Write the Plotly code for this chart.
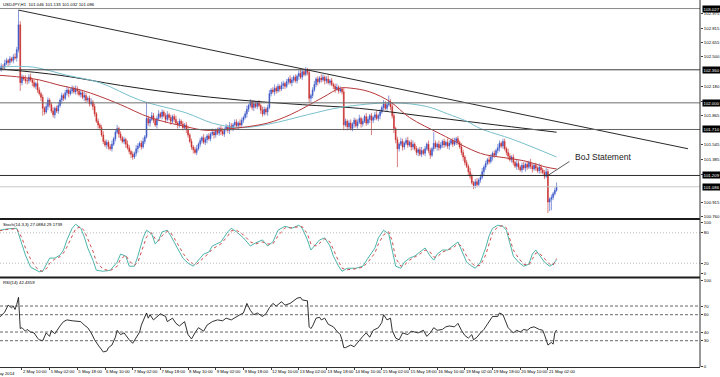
import plotly.graph_objects as go

# ---------------- DATA ----------------
header_text = "USDJPY,H1  101.046 101.133 101.032 101.086"
stoch_text = "Stoch(14,3,3) 27.0884 29.1739"
rsi_text = "RSI(14) 42.4359"
event_text = "BoJ Statement"
event_bar = 320
event_price = 101.209

# prices expressed in hundredths above 100.00 (e.g. 236 -> 102.36)
first_open_pips = 235
close_pips = [
    236, 238, 235, 237, 240, 239, 243, 246, 244,
    248, 246, 250, 249, 258, 285, 222, 228, 226, 224,
    224, 228, 225, 222, 218, 221, 214, 210, 206, 194,
    190, 196, 203, 198, 191, 187, 194, 191,
    197, 203, 208, 205, 211, 214,
    210, 213, 216, 212, 215, 213, 209, 211,
    206, 208, 203, 205, 199, 201,
    196, 188, 180, 176, 173,
    165, 158, 154, 157, 152, 150, 155,
    161, 168, 172, 166,
    162, 158, 160, 155, 151, 147, 144,
    141, 145, 150, 153, 156, 152, 158, 163, 183,
    178, 182, 186, 181, 176, 183, 188,
    185, 190, 186, 182, 187, 184, 180, 185,
    182, 178, 176, 180, 177, 173, 176, 171,
    165, 158, 152, 149, 146, 150,
    155, 159, 162, 157, 160, 164, 161, 166,
    168, 165, 170, 167, 172, 169, 166, 171, 174, 170, 175, 172, 176, 179, 175, 178,
    176, 181, 184, 188,
    193, 197, 201, 195, 199, 196, 200, 197,
    192, 188, 193, 190, 195, 210, 214,
    212, 216, 213, 218, 215, 219,
    221, 218, 223, 226, 222, 225, 228, 224, 229,
    232, 228, 234, 231, 236, 233, 205, 208,
    214, 220, 226, 223,
    227, 225, 228, 224, 226, 222, 224, 220,
    218, 215, 217, 213, 215, 212, 176,
    180, 174, 178, 172, 177, 181, 175,
    179, 183, 177, 180, 185, 178, 182, 186, 181, 184, 187, 183, 186,
    190, 195, 199, 194, 198, 201, 196,
    186, 172, 160, 150,
    155, 158, 152, 156, 159, 154, 157, 152, 155,
    150, 146, 149, 144, 148, 145,
    150, 155, 148, 143, 150, 156,
    152, 155, 151, 154, 158,
    154, 157, 153, 156, 159, 155, 158, 161, 157,
    152, 146, 141, 135, 131, 125,
    120, 113, 110, 114, 111, 116, 119,
    125, 130, 134, 138, 136, 141, 145, 143, 148, 151,
    156, 153, 158, 150, 146,
    142, 138, 141, 135, 131, 134, 130, 127, 132,
    129, 133, 130, 135, 131, 128, 132, 129, 126, 130, 127,
    124, 120, 125, 92, 95, 97, 101, 104.6, 108.6,
]
wick_up_pips = [
    3, 2, 4, 2, 3, 2, 4, 3, 2, 3, 2, 3, 4, 3, 16, 4, 3, 2, 4, 3,
    3, 4, 2, 3, 2, 4, 3, 2, 3, 2, 4, 3, 2, 3, 4, 2, 3, 4, 2, 3,
    2, 3, 4, 2, 3, 3, 2, 4, 3, 2, 3, 2, 4, 3, 2, 3, 4, 2, 3, 2,
    3, 2, 3, 4, 2, 3, 2, 3, 4, 2, 3, 4, 2, 3, 2, 3, 2, 4, 3, 2,
    3, 2, 4, 3, 2, 3, 4, 2, 17, 3, 2, 4, 3, 2, 3, 4, 2, 3, 2, 3,
    4, 2, 3, 2, 3, 4, 2, 3, 2, 3, 2, 3, 4, 2, 3, 2, 3, 4, 2, 3,
    2, 4, 3, 2, 3, 2, 4, 3, 2, 3, 2, 3, 4, 2, 3, 2, 4, 3, 2, 3,
    3, 2, 4, 3, 2, 3, 4, 2, 3, 2, 4, 3, 2, 3, 2, 4, 3, 2, 3, 4,
    2, 3, 4, 2, 3, 2, 4, 3, 2, 3, 2, 4, 3, 2, 3, 2, 3, 4, 2, 3,
    3, 2, 4, 2, 3, 4, 2, 3, 2, 4, 3, 2, 3, 4, 2, 3, 2, 3, 4, 2,
    3, 2, 4, 3, 2, 3, 4, 2, 3, 2, 3, 4, 2, 3, 2, 4, 3, 2, 3, 2,
    3, 4, 2, 3, 2, 4, 3, 2, 7, 3, 4, 3, 2, 3, 2, 4, 3, 2, 3, 4,
    2, 3, 4, 2, 3, 2, 3, 4, 2, 3, 2, 4, 3, 2, 12, 3, 2, 4, 3, 2,
    3, 2, 4, 3, 2, 3, 4, 2, 3, 2, 4, 3, 2, 3, 2, 4, 3, 2, 3, 4,
    2, 3, 4, 2, 3, 2, 4, 3, 2, 3, 2, 4, 3, 2, 3, 3, 2, 4, 3, 2,
    3, 2, 4, 3, 2, 3, 4, 2, 3, 2, 4, 3, 2, 3, 2, 4, 3, 2, 3, 4,
    3, 2, 3, 2, 3, 4.7,
]
wick_dn_pips = [
    2, 3, 2, 4, 3, 2, 3, 2, 4, 3, 2, 3, 2, 4, 3, 9, 3, 2, 3, 4,
    3, 2, 4, 2, 3, 3, 2, 4, 8, 3, 2, 4, 3, 2, 3, 4, 2, 3, 2, 4,
    3, 2, 3, 4, 2, 3, 2, 3, 4, 2, 3, 2, 4, 3, 2, 3, 2, 4, 3, 2,
    4, 3, 2, 3, 2, 4, 3, 2, 3, 2, 3, 2, 4, 3, 2, 3, 4, 2, 3, 4,
    3, 2, 3, 4, 2, 3, 2, 3, 2, 3, 4, 2, 3, 2, 4, 3, 2, 3, 2, 4,
    2, 3, 4, 2, 3, 2, 4, 3, 2, 3, 2, 4, 3, 2, 3, 4, 2, 3, 2, 3,
    3, 2, 3, 4, 2, 3, 2, 4, 3, 2, 3, 4, 2, 3, 2, 3, 4, 2, 3, 2,
    2, 4, 3, 2, 3, 2, 4, 3, 2, 3, 4, 2, 3, 2, 4, 3, 2, 3, 4, 2,
    3, 2, 4, 3, 2, 3, 2, 4, 3, 2, 3, 2, 4, 3, 2, 3, 4, 2, 3, 2,
    2, 3, 5, 4, 3, 2, 3, 4, 2, 3, 2, 4, 3, 2, 3, 2, 3, 4, 2, 3,
    2, 3, 6, 2, 4, 3, 2, 3, 4, 2, 3, 2, 4, 3, 2, 3, 2, 4, 16, 3,
    3, 2, 3, 4, 2, 3, 2, 3, 2, 4, 3, 5, 4, 20, 3, 2, 4, 3, 2, 3,
    2, 4, 3, 2, 3, 4, 2, 3, 2, 3, 2, 3, 4, 2, 3, 2, 4, 3, 2, 3,
    3, 2, 3, 4, 2, 3, 2, 4, 3, 2, 3, 4, 3, 2, 4, 3, 2, 4, 3, 2,
    2, 3, 2, 4, 3, 2, 3, 2, 4, 3, 2, 3, 4, 2, 3, 2, 3, 4, 2, 3,
    3, 2, 4, 3, 2, 3, 2, 4, 3, 2, 3, 4, 2, 3, 2, 3, 4, 2, 3, 2,
    12, 10, 12, 3, 2, 1.4,
]

# moving averages: (bar, price)
red_ma_points = [(3, 102.30), (15, 102.28), (26, 102.25), (38, 102.19), (50, 102.14), (61, 102.07),
                 (73, 101.98), (90, 101.84), (111, 101.74), (123, 101.70), (142, 101.73), (158, 101.78),
                 (171, 101.87), (190, 102.06), (200, 102.16), (206, 102.16), (217, 102.12), (229, 102.01),
                 (240, 101.84), (258, 101.66), (281, 101.45), (292, 101.41), (306, 101.37), (319, 101.30),
                 (325, 101.28)]
teal_ma_points = [(3, 102.39), (22, 102.39), (42, 102.30), (61, 102.22), (84, 102.03), (111, 101.89),
                  (126, 101.78), (142, 101.73), (159, 101.77), (181, 101.87), (200, 101.95), (230, 102.00),
                  (250, 101.96), (262, 101.88), (273, 101.80), (281, 101.72), (300, 101.60), (325, 101.41)]
black_ma_points = [(3, 102.37), (38, 102.30), (73, 102.19), (107, 102.10), (142, 102.03), (178, 101.98),
                   (211, 101.94), (246, 101.86), (281, 101.78), (325, 101.68)]

trend_points = [(14, 103.01), (401, 101.50)]
level_prices = [103.027, 102.360, 102.000, 101.710, 101.209]
level_labels = ["103.027", "102.360", "102.000", "101.710", "101.209"]
bid_price = 101.086
bid_label = "101.086"

# visible price-scale labels (those hidden under the boxed line labels are left out)
price_ticks = [102.975, 102.815, 102.655, 102.500, 102.180, 102.020, 101.865,
               101.545, 101.385, 101.225, 100.915, 100.760]
price_tick_text = ["102.975", "102.815", "102.655", "102.500", "102.180", "102.020",
                   "101.865", "101.545", "101.385", "101.225", "100.915", "100.760"]
stoch_ticks = [0, 20, 80, 100]
stoch_levels = [20, 80]
rsi_ticks = [0, 30, 40, 60, 70, 100]
rsi_levels = [30, 40, 60, 70]

time_label_bars = [16, 32, 48, 64, 80, 96, 112, 128, 144, 160, 176, 192, 208, 224, 240, 256, 272, 288, 304, 320]
time_labels = ["2 May 10:00", "5 May 02:00", "5 May 18:00", "6 May 10:00", "7 May 02:00", "7 May 18:00",
               "8 May 10:00", "9 May 02:00", "9 May 18:00", "12 May 10:00", "13 May 02:00", "13 May 18:00",
               "14 May 10:00", "15 May 02:00", "15 May 18:00", "16 May 10:00", "19 May 02:00", "19 May 18:00",
               "20 May 10:00", "21 May 02:00"]
first_date_label = "2 May 2014"

# stochastic: (bar, %K, %D)
stoch_points = [
    (3, 85, 84), (8, 88, 87), (13, 89, 88), (16, 56, 70), (18, 36, 50), (21, 12, 28), (24, 6, 12),
    (26, 3, 6), (28, 4, 4), (31, 22, 12), (32, 30, 20), (35, 30, 28), (38, 36, 33), (40, 46, 40),
    (42, 66, 52), (45, 89, 74), (47, 97, 88), (50, 89, 92), (52, 72, 84), (54, 50, 68), (57, 26, 44),
    (59, 6, 22), (63, 4, 8), (67, 6, 5), (71, 22, 14), (73, 38, 28), (76, 34, 36), (78, 14, 24),
    (81, 14, 16), (83, 34, 22), (86, 70, 50), (88, 85, 72), (91, 78, 80), (93, 58, 68), (95, 66, 64),
    (97, 82, 74), (100, 85, 83), (102, 74, 80), (105, 54, 64), (109, 30, 40), (112, 20, 26),
    (115, 14, 18), (117, 22, 18), (121, 38, 30), (124, 42, 40), (126, 54, 48), (131, 62, 58),
    (135, 82, 74), (137, 89, 84), (140, 82, 85), (144, 70, 76), (148, 54, 62), (151, 60, 58),
    (155, 66, 62), (158, 54, 58), (161, 62, 58), (164, 85, 74), (168, 93, 90), (172, 89, 90),
    (176, 95, 92), (178, 89, 92), (181, 66, 78), (183, 46, 58), (186, 58, 54), (188, 66, 60),
    (191, 70, 68), (194, 54, 62), (196, 34, 46), (199, 14, 24), (201, 4, 10), (204, 10, 7),
    (209, 10, 9), (213, 14, 12), (216, 30, 22), (220, 50, 40), (222, 70, 58), (225, 85, 76),
    (228, 78, 82), (230, 46, 64), (232, 14, 30), (235, 10, 14), (237, 22, 16), (240, 30, 26),
    (243, 34, 32), (246, 42, 38), (249, 50, 46), (252, 34, 42), (254, 26, 32), (256, 38, 32),
    (259, 46, 42), (262, 46, 46), (265, 54, 50), (268, 62, 58), (270, 46, 54), (273, 22, 34),
    (276, 14, 20), (278, 10, 14), (281, 22, 16), (284, 50, 36), (286, 74, 60), (288, 89, 80),
    (291, 95, 92), (294, 93, 94), (296, 85, 90), (298, 58, 70), (300, 34, 46), (303, 22, 30),
    (306, 14, 18), (309, 18, 16), (311, 38, 28), (313, 46, 40), (315, 36, 40), (318, 22, 30),
    (321, 14, 18), (323, 18, 16), (325, 27.1, 29.2),
]

# RSI(14): (bar, value)
rsi_points = [
    (3, 57), (6, 63), (8, 71), (10, 68), (11, 70), (12, 66), (13, 72), (14, 80), (15, 44), (16, 45),
    (18, 41), (19, 43), (21, 40), (23, 39), (25, 33), (26, 31), (28, 30), (30, 39), (32, 35), (33, 42),
    (35, 38), (37, 45), (38, 47), (40, 52), (42, 54), (45, 53), (48, 52), (50, 52), (52, 48), (54, 45),
    (56, 39), (58, 31), (60, 25), (62, 19), (63, 17), (65, 18), (66, 22), (68, 25), (70, 34), (71, 42),
    (73, 37), (75, 39), (77, 33), (78, 31), (80, 27), (82, 34), (84, 40), (85, 48), (88, 62), (89, 56),
    (90, 60), (92, 54), (94, 58), (96, 61), (99, 58), (100, 52), (103, 56), (105, 50), (107, 47),
    (110, 52), (112, 37), (114, 32), (116, 39), (118, 45), (121, 41), (123, 48), (126, 52), (129, 54),
    (132, 53), (134, 56), (137, 54), (140, 58), (142, 60), (144, 62), (146, 73), (148, 65), (150, 60),
    (152, 62), (155, 58), (157, 61), (159, 68), (161, 73), (163, 70), (166, 75), (168, 71), (171, 73),
    (173, 76), (175, 79), (177, 80), (178, 77), (181, 76), (182, 46), (183, 44), (184, 47), (186, 56),
    (188, 57), (189, 54), (191, 56), (193, 49), (196, 46), (198, 41), (200, 37), (201, 31), (202, 22),
    (203, 22), (206, 25), (208, 23), (210, 28), (213, 35), (215, 39), (217, 34), (219, 42), (222, 45),
    (224, 51), (225, 60), (227, 54), (229, 56), (230, 42), (232, 33), (234, 31), (236, 39), (239, 37),
    (241, 41), (243, 40), (245, 39), (248, 42), (250, 35), (252, 39), (254, 45), (256, 42), (259, 43),
    (261, 46), (263, 47), (266, 46), (268, 50), (270, 42), (272, 36), (274, 33), (276, 37), (277, 31),
    (279, 34), (281, 39), (283, 43), (285, 49), (287, 56), (288, 58), (291, 58), (292, 62), (294, 60),
    (295, 55), (297, 45), (299, 41), (300, 39), (302, 42), (304, 40), (306, 43), (308, 42), (310, 45),
    (312, 46), (315, 43), (317, 42), (318, 37), (320, 25), (322, 28), (323, 26), (324, 39), (325, 42.4),
]

# ---------------- BUILD ----------------
n = len(close_pips)
bars = list(range(n))
closes = [100 + v / 100 for v in close_pips]
opens = [100 + first_open_pips / 100] + closes[:-1]
highs = [max(o, c) + w / 100 for o, c, w in zip(opens, closes, wick_up_pips)]
lows = [min(o, c) - w / 100 for o, c, w in zip(opens, closes, wick_dn_pips)]

small = dict(family="Liberation Sans", size=4.3, color="#000000")
X_RANGE = [3.3, 407.9]

fig = go.Figure()
fig.add_trace(go.Candlestick(
    x=bars, open=opens, high=highs, low=lows, close=closes,
    increasing=dict(line=dict(color="#3553c6", width=0.6), fillcolor="#3553c6"),
    decreasing=dict(line=dict(color="#c82727", width=0.6), fillcolor="#c82727"),
    whiskerwidth=0, xaxis="x", yaxis="y", showlegend=False))

for pts, col in [(black_ma_points, "#202020"), (teal_ma_points, "#78c0cc"), (red_ma_points, "#b8383a")]:
    fig.add_trace(go.Scatter(x=[p[0] for p in pts], y=[p[1] for p in pts], mode="lines",
                             line=dict(color=col, width=1, shape="spline", smoothing=1.0),
                             xaxis="x", yaxis="y", showlegend=False))

fig.add_trace(go.Scatter(x=[p[0] for p in trend_points], y=[p[1] for p in trend_points], mode="lines",
                         line=dict(color="#2a2a2a", width=1), xaxis="x", yaxis="y", showlegend=False))

sb = [p[0] for p in stoch_points]
fig.add_trace(go.Scatter(x=sb, y=[p[1] for p in stoch_points], mode="lines",
                         line=dict(color="#4cb5ab", width=1), xaxis="x2", yaxis="y2", showlegend=False))
fig.add_trace(go.Scatter(x=sb, y=[p[2] for p in stoch_points], mode="lines",
                         line=dict(color="#d05050", width=1, dash="dot"), xaxis="x2", yaxis="y2",
                         showlegend=False))

fig.add_trace(go.Scatter(x=[p[0] for p in rsi_points], y=[p[1] for p in rsi_points], mode="lines",
                         line=dict(color="#1a1a1a", width=0.9), xaxis="x3", yaxis="y3", showlegend=False))

shapes = []
level_colors = ["#8a8a8a", "#3c3c3c", "#6e6e6e", "#606060", "#2c2c2c"]
for lv, col in zip(level_prices, level_colors):
    shapes.append(dict(type="line", xref="paper", x0=0, x1=1, yref="y", y0=lv, y1=lv,
                       line=dict(color=col, width=1)))
shapes.append(dict(type="line", xref="paper", x0=0, x1=1, yref="y", y0=bid_price, y1=bid_price,
                   line=dict(color="#c8c8c8", width=1)))
for lv in stoch_levels:
    shapes.append(dict(type="line", xref="paper", x0=0, x1=1, yref="y2", y0=lv, y1=lv,
                       line=dict(color="#a8a8a8", width=0.8, dash="1px,2px")))
for lv in rsi_levels:
    shapes.append(dict(type="line", xref="paper", x0=0, x1=1, yref="y3", y0=lv, y1=lv,
                       line=dict(color="#404040", width=0.8, dash="3px,2px")))
# panel separators and right border
for yy in [0.4033, 0.2439]:
    shapes.append(dict(type="line", xref="paper", x0=0, x1=1, yref="paper", y0=yy, y1=yy,
                       line=dict(color="#1c1c1c", width=2)))
shapes.append(dict(type="line", xref="paper", x0=1, x1=1, yref="paper", y0=0, y1=1,
                   line=dict(color="#303030", width=1)))

annotations = [
    dict(text=header_text, xref="paper", yref="paper", x=0, y=0.989, xanchor="left", yanchor="middle",
         xshift=1, showarrow=False, font=small),
    dict(text=stoch_text, xref="paper", yref="paper", x=0, y=0.3896, xanchor="left", yanchor="middle",
         xshift=1, showarrow=False, font=small),
    dict(text=rsi_text, xref="paper", yref="paper", x=0, y=0.2316, xanchor="left", yanchor="middle",
         xshift=1, showarrow=False, font=small),
    dict(text=first_date_label, xref="paper", yref="paper", x=0, y=0, xanchor="right", yanchor="top",
         xshift=17, yshift=-2, showarrow=False, font=small),
    dict(text="", x=event_bar, y=event_price, xref="x", yref="y", showarrow=True, arrowhead=0,
         arrowwidth=0.8, arrowcolor="#303030", ax=23, ay=-15),
    dict(text=event_text, x=event_bar, y=event_price, xref="x", yref="y", showarrow=False,
         xanchor="left", yanchor="middle", xshift=25, yshift=18,
         font=dict(family="Liberation Sans", size=8.5, color="#1a1a1a")),
]
for lv, lab in list(zip(level_prices, level_labels)) + [(bid_price, bid_label)]:
    annotations.append(dict(text=lab, xref="paper", yref="y", x=1, y=lv, xanchor="left", yanchor="middle",
                            xshift=2, showarrow=False, bgcolor="#000000", borderpad=0.5,
                            font=dict(family="Liberation Sans", size=4.3, color="#ffffff")))

common_x = dict(range=X_RANGE, showgrid=False, zeroline=False, showline=False, showticklabels=False,
                ticks="", fixedrange=True)
common_y = dict(side="right", showgrid=False, zeroline=False, showline=False, ticks="outside",
                ticklen=2, tickcolor="#404040", tickfont=small)

fig.update_layout(
    width=720, height=377, margin=dict(l=0, r=20, t=0, b=10),
    paper_bgcolor="white", plot_bgcolor="white", hovermode=False, showlegend=False,
    xaxis=dict(**common_x, anchor="y", rangeslider=dict(visible=False)),
    xaxis2=dict(**common_x, anchor="y2", matches="x"),
    xaxis3=dict(range=X_RANGE, anchor="y3", matches="x", showgrid=False, zeroline=False, showline=True,
                linecolor="#303030", linewidth=1, tickvals=time_label_bars, ticktext=time_labels,
                ticks="outside", ticklen=2, tickcolor="#404040", ticklabelposition="outside right",
                tickfont=small, tickangle=0),
    yaxis=dict(**common_y, domain=[0.406, 1.0], range=[100.746, 103.120], tickvals=price_ticks,
               ticktext=price_tick_text, anchor="x"),
    yaxis2=dict(**common_y, domain=[0.248, 0.4005], range=[-5.3, 105.3], tickvals=stoch_ticks,
                anchor="x2"),
    yaxis3=dict(**common_y, domain=[0.0, 0.2398], range=[-0.35, 101.2], tickvals=rsi_ticks,
                anchor="x3"),
    shapes=shapes, annotations=annotations,
)

fig.write_html("out.html", config={"displayModeBar": False},
               post_script="document.body.style.margin='0';document.body.style.overflow='hidden';")
